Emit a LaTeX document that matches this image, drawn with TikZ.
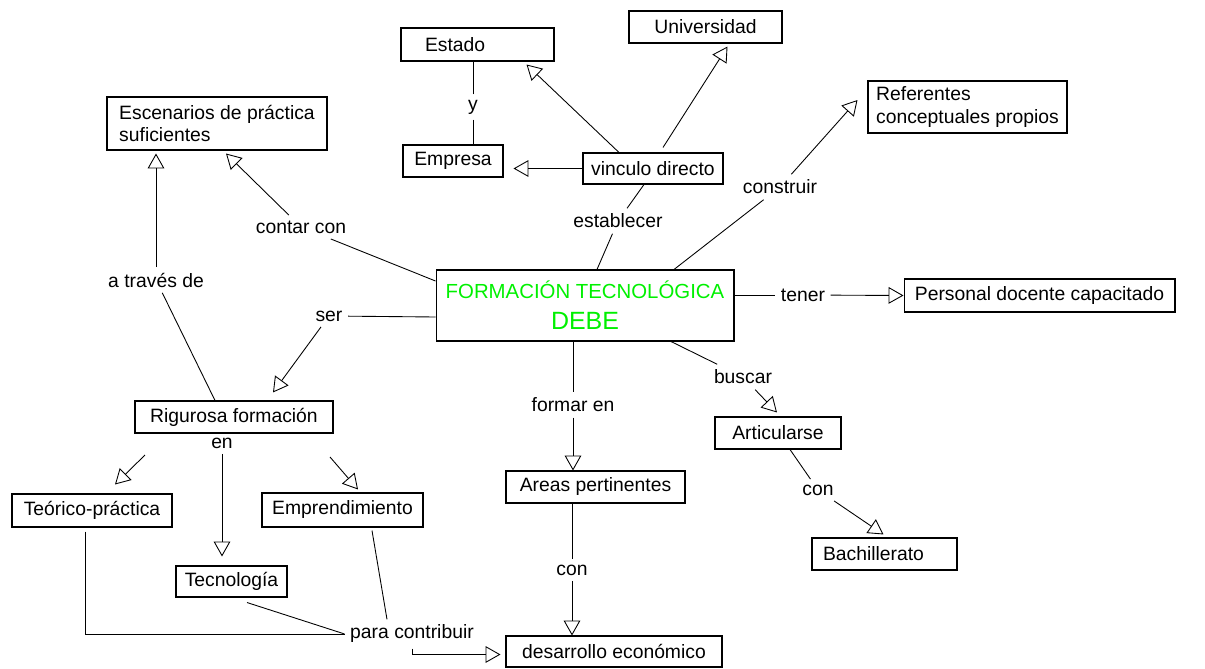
\documentclass[tikz,border=0pt]{standalone}
\usepackage{fontspec}
\setmainfont{Liberation Sans}
\usepackage{xcolor}
\usepackage{tikz}
\usetikzlibrary{arrows.meta,positioning,calc}

\definecolor{ftegreen}{RGB}{0,240,0}
\newcommand{\mapfont}{\fontsize{11}{13}\selectfont}

\tikzset{
  box/.style={draw, line width=0.6pt, inner xsep=3pt, inner ysep=2pt, font=\mapfont},
  lbl/.style={inner sep=3pt, font=\mapfont},
  link/.style={line width=0.5pt},
  arr/.style={-{Triangle[open, length=8.5pt, width=9.5pt]}}
}

\begin{document}
\begin{tikzpicture}[x=0.02cm, y=-0.02cm]
    \useasboundingbox (0,0) rectangle (1205,669);

    % central concept
    \node[box, minimum width=5.96cm, minimum height=1.42cm, align=center, text=ftegreen] (fte) at (585,305.5)
        {{\fontsize{11.6}{14}\selectfont FORMACIÓN TECNOLÓGICA}\\[4.5pt]{\fontsize{14.2}{17}\selectfont DEBE}};

    % concepts (top)
    \node[box, minimum width=3.06cm, minimum height=0.66cm, align=left, text width=2.1cm, inner xsep=0.48cm] (estado) at (477.5,44.5) {Estado};
    \node[box, minimum width=3.06cm, minimum height=0.64cm] (univ) at (705.5,27) {Universidad};
    \node[box, minimum width=2.0cm, minimum height=0.64cm] (empresa) at (453,161) {Empresa};
    \node[box, minimum width=2.8cm, minimum height=0.62cm] (vinculo) at (653,168.5) {vinculo directo};
    \node[box, minimum width=4.4cm, minimum height=1.06cm, align=left] (esc) at (217,123.5) {Escenarios de práctica\\suficientes};
    \node[box, minimum width=3.98cm, minimum height=1.04cm, align=left] (ref) at (967.5,107) {Referentes\\conceptuales propios};
    \node[box, minimum width=5.42cm, minimum height=0.66cm] (perso) at (1039.5,295.5) {Personal docente capacitado};

    % concepts (bottom)
    \node[box, minimum width=3.96cm, minimum height=0.64cm] (rig) at (234,417) {Rigurosa formación};
    \node[box, minimum width=3.2cm, minimum height=0.66cm] (teo) at (92,510.5) {Teórico-práctica};
    \node[box, minimum width=3.22cm, minimum height=0.68cm] (emp) at (342.5,510) {Emprendimiento};
    \node[box, minimum width=2.22cm, minimum height=0.62cm] (tec) at (231.5,581.5) {Tecnología};
    \node[box, minimum width=3.58cm, minimum height=0.64cm] (areas) at (595.5,487) {Areas pertinentes};
    \node[box, minimum width=2.52cm, minimum height=0.64cm] (art) at (778,433) {Articularse};
    \node[box, minimum width=4.32cm, minimum height=0.62cm] (desa) at (614,651.5) {desarrollo económico};
    \node[box, minimum width=2.9cm, minimum height=0.64cm, align=left, text width=2.46cm, inner xsep=0.22cm] (bach) at (884.5,554) {Bachillerato};

    % linking words
    \node[lbl] (ylbl) at (473,107) {y};
    \node[lbl] (estlbl) at (618,221) {establecer};
    \node[lbl] (conslbl) at (780,187) {construir};
    \node[lbl] (contlbl) at (301,227) {contar con};
    \node[lbl] (atlbl) at (156,280) {a través de};
    \node[lbl] (serlbl) at (329,316) {ser};
    \node[lbl] (tenerlbl) at (803,295) {tener};
    \node[lbl] (busclbl) at (743,377) {buscar};
    \node[lbl] (formlbl) at (573,405) {formar en};
    \node[lbl] (con1lbl) at (818,490) {con};
    \node[lbl] (con2lbl) at (572,570) {con};
    \node[lbl] (enlbl) at (222,443) {en};
    \node[lbl] (paralbl) at (412,634) {para contribuir};

    % Estado y Empresa
    \draw[link] (ylbl) -- (ylbl |- estado.south);
    \draw[link] (ylbl) -- (ylbl |- empresa.north);

    % vinculo directo
    \draw[link, arr] ($(vinculo.north)+(-34,0)$) -- ($(estado.south east)+(-28,3)$);
    \draw[link, arr] ($(vinculo.north)+(10,-5)$) -- ($(univ.south)+(22,3)$);
    \draw[link, arr] (vinculo.west) -- ($(vinculo.west -| empresa.east)+(10,0)$);

    % from the central concept
    \draw[link] ($(fte.north)+(12,0)$) -- (estlbl);
    \draw[link] (estlbl) -- ($(vinculo.south)+(-9,0)$);
    \draw[link] ($(fte.north)+(89,0)$) -- (conslbl);
    \draw[link, arr] (conslbl) -- ($(ref.west)+(-10,-7)$);
    \draw[link] ($(fte.west)+(0,-24.5)$) -- (contlbl);
    \draw[link, arr] (contlbl) -- ($(esc.south)+(9,3)$);
    \draw[link] ($(fte.west)+(0,11.5)$) -- (serlbl);
    \draw[link, arr] (serlbl) -- ($(rig.north)+(39,-8)$);
    \draw[link] (fte.east |- tenerlbl) -- (tenerlbl);
    \draw[link, arr] (tenerlbl) -- (perso.west);
    \draw[link] ($(fte.south)+(86,0)$) -- (busclbl);
    \draw[link, arr] (busclbl) -- ($(art.north)+(-1,-4)$);
    \draw[link] (fte.south -| formlbl) -- (formlbl);
    \draw[link, arr] (formlbl) -- (formlbl |- areas.north);

    % Rigurosa formacion
    \draw[link] ($(rig.north)+(-19,0)$) -- (atlbl);
    \draw[link, arr] (atlbl) -- ($(esc.south)+(-61,3)$);
    \draw[link, arr] ($(enlbl)+(-77,12)$) -- ($(teo.north)+(23,-9)$);
    \draw[link, arr] (enlbl) -- ($(enlbl |- tec.north)+(0,-9)$);
    \draw[link, arr] ($(enlbl)+(108,14)$) -- ($(emp.north)+(15.5,-3)$);

    % para contribuir
    \draw[link] ($(teo.south)+(-7,4)$) |- (paralbl.west);
    \draw[link] ($(tec.south)+(15.5,5)$) -- (paralbl.west);
    \draw[link] ($(emp.south)+(29.5,3)$) -- ($(paralbl.north)+(-25,0)$);
    \draw[link, arr] (paralbl.south) |- ($(desa.west)+(-5,3)$);

    % Articularse, Areas
    \draw[link] ($(art.south)+(12,0)$) -- (con1lbl);
    \draw[link, arr] (con1lbl) -- ($(bach.north)+(-1,-3)$);
    \draw[link] (areas.south -| con2lbl) -- (con2lbl);
    \draw[link, arr] (con2lbl) -- (con2lbl |- desa.north);
\end{tikzpicture}
\end{document}
